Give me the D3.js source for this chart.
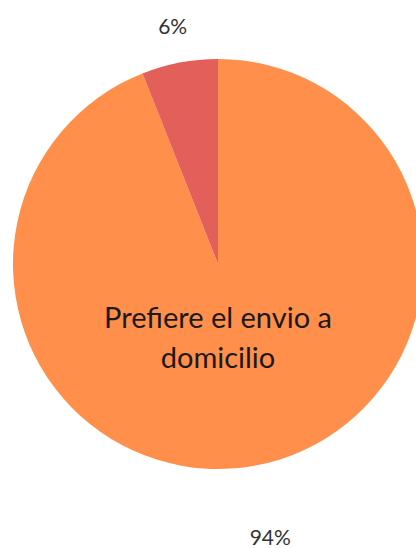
<!DOCTYPE html>
<html>
<head>
<meta charset="utf-8">
<script src="https://cdn.jsdelivr.net/npm/d3@7"></script>
<style>
  body { margin: 0; background: #fff; }
</style>
</head>
<body>
<svg class="chart" width="416" height="548"></svg>
<script>
var categories = ["Prefiere el envio a domicilio", "Otro"];
var values = [94, 6];
var labels = ["94%", "6%"];
var colors = ["#FF8F4B", "#E35F5A"];

window.onload = function(){

    var svg = d3.select(".chart");

    var cx = 218, cy = 264, r = 205;

    var g = svg.append('g')
            .attr('transform', 'translate(' + cx + ',' + cy + ')');

    var pie = d3.pie().sort(null).value(function(d){ return d; });
    var arc = d3.arc().innerRadius(0).outerRadius(r);
    var arcs = pie(values);

    g.selectAll('path')
            .data(arcs)
            .enter()
            .append('path')
            .attr('d', arc)
            .attr('fill', function(d, i){ return colors[i]; });

    // percent labels sit outside the pie, small slice label closer in
    var labelOffset = [74, 37];
    g.selectAll('text.pct')
            .data(arcs)
            .enter()
            .append('text')
            .attr('class', 'pct')
            .attr('transform', function(d, i){
                var rr = r + labelOffset[i];
                var la = d3.arc().innerRadius(rr).outerRadius(rr);
                return 'translate(' + la.centroid(d) + ')';
            })
            .attr('text-anchor', 'middle')
            .attr('dy', '0.35em')
            .attr('font-family', 'Lato, sans-serif')
            .attr('font-size', '21px')
            .attr('fill', '#333')
            .text(function(d, i){ return labels[i]; });

    // category text inside the big slice
    var words = ["Prefiere el envio a", "domicilio"];
    g.append('text')
            .attr('x', 0)
            .attr('y', 64)
            .attr('text-anchor', 'middle')
            .attr('font-family', 'Lato, sans-serif')
            .attr('font-size', '29px')
            .attr('fill', '#1a1a1a')
            .selectAll('tspan')
            .data(words)
            .enter()
            .append('tspan')
            .attr('x', 0)
            .attr('dy', function(d, i){ return i === 0 ? 0 : 40; })
            .text(function(d){ return d; });
}
</script>
</body>
</html>
